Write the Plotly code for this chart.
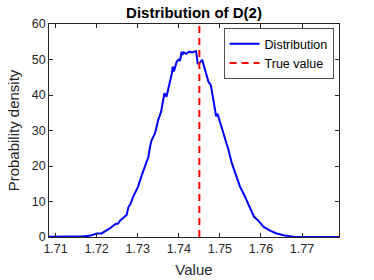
import plotly.graph_objects as go

# Distribution curve (value, probability density)
dist_x = [1.7040, 1.7080, 1.7120, 1.7150, 1.7170, 1.7185, 1.7200, 1.7212, 1.7224, 1.7232,
          1.7245, 1.7252, 1.7257, 1.7263, 1.7269, 1.7273, 1.7277, 1.7283, 1.7289, 1.7295,
          1.7301, 1.7308, 1.7314, 1.7320, 1.7326, 1.7330, 1.7334, 1.7342, 1.7350, 1.7357,
          1.7361, 1.7365, 1.7370, 1.7378, 1.7383, 1.7385, 1.7388, 1.7395, 1.7400, 1.7403,
          1.7407, 1.7409, 1.7412, 1.7418, 1.7425, 1.7432, 1.7442, 1.7446, 1.7451, 1.7457,
          1.7463, 1.7472, 1.7478, 1.7484, 1.7489, 1.7491, 1.7494, 1.7504, 1.7515, 1.7521,
          1.7529, 1.7537, 1.7549, 1.7561, 1.7573, 1.7580, 1.7583, 1.7592, 1.7606, 1.7622,
          1.7638, 1.7658, 1.7680, 1.7705, 1.7740, 1.7800]
dist_y = [0.0, 0.0, 0.05, 0.1, 0.2, 0.4, 1.0, 1.0, 1.8, 2.4,
          3.6, 3.8, 4.6, 5.3, 5.8, 6.2, 8.3, 9.5, 11.4, 12.8,
          14.2, 16.8, 18.9, 21.0, 22.6, 25.5, 27.3, 29.2, 33.0, 35.3,
          37.5, 40.5, 39.5, 43.3, 46.0, 48.0, 46.6, 49.4, 50.0, 49.6,
          52.2, 51.3, 52.0, 51.6, 52.2, 52.0, 52.4, 48.9, 49.1, 49.9,
          47.5, 43.8, 42.8, 39.0, 36.0, 34.0, 34.8, 31.1, 27.3, 24.5,
          20.8, 17.9, 14.2, 11.4, 8.5, 6.8, 5.7, 4.8, 2.9, 1.8,
          1.0, 0.4, 0.1, 0.0, 0.0, 0.0]

true_value = 1.745
true_y = [0, 60]

x_ticks = [1.71, 1.72, 1.73, 1.74, 1.75, 1.76, 1.77]
y_ticks = [0, 10, 20, 30, 40, 50, 60]

font_family = "Liberation Sans, Arial, sans-serif"
axis_color = "#262626"

fig = go.Figure()
fig.add_trace(go.Scatter(x=dist_x, y=dist_y, mode="lines", name="Distribution",
                         line=dict(color="#0000ff", width=2)))
fig.add_trace(go.Scatter(x=[true_value, true_value], y=true_y, mode="lines",
                         name="True value",
                         line=dict(color="#ff0000", width=2, dash="7px,5px")))

fig.update_layout(
    width=374, height=280,
    margin=dict(l=49, r=35, t=24, b=43),
    paper_bgcolor="white", plot_bgcolor="white",
    font=dict(family=font_family, size=12, color=axis_color),
    title=dict(text="<b>Distribution of D(2)</b>", x=0.5, xref="paper", xanchor="center",
               y=0.955, yref="container", yanchor="middle",
               font=dict(size=15, color="black", family=font_family)),
    showlegend=True,
    legend=dict(x=0.982, y=0.98, xanchor="right", yanchor="top",
                bgcolor="white", bordercolor=axis_color, borderwidth=0.8,
                font=dict(size=12.5, color="black"),
                tracegroupgap=0, itemwidth=30),
    xaxis=dict(range=[1.7084, 1.779], tickvals=x_ticks,
               ticktext=[f"{v:.2f}" for v in x_ticks],
               ticks="inside", ticklen=4, tickcolor=axis_color,
               showline=True, linecolor=axis_color, linewidth=0.8, mirror="ticks",
               showgrid=False, zeroline=False, automargin=False,
               tickfont=dict(size=12.5),
               title=dict(text="Value", font=dict(size=15), standoff=9)),
    yaxis=dict(range=[0, 60], tickvals=y_ticks,
               ticks="inside", ticklen=4, tickcolor=axis_color,
               showline=True, linecolor=axis_color, linewidth=0.8, mirror="ticks",
               showgrid=False, zeroline=False, automargin=False,
               tickfont=dict(size=12.5),
               title=dict(text="Probability density", font=dict(size=15), standoff=8)),
)

fig.write_html("out.html",
               config={"displayModeBar": False},
               post_script="document.body.style.margin='0';document.body.style.overflow='hidden';")
